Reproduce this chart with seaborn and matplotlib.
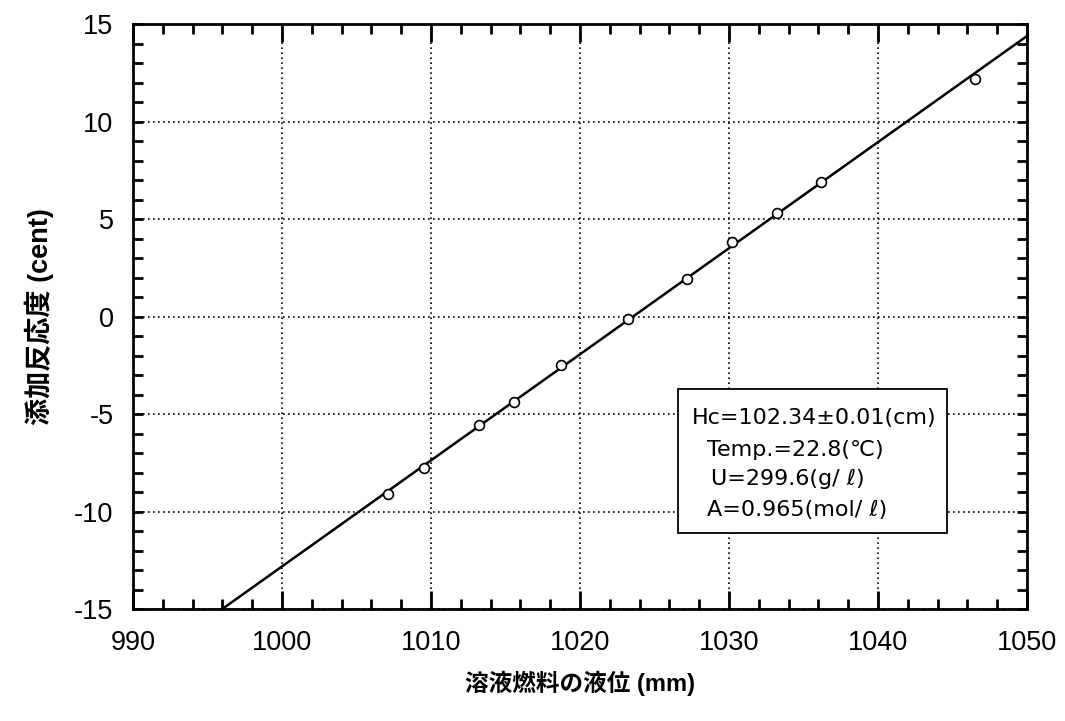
import numpy as np
import pandas as pd
import matplotlib
matplotlib.use("Agg")
import matplotlib.pyplot as plt
from matplotlib.ticker import MultipleLocator
from matplotlib.patches import Rectangle
import seaborn as sns

# ---- data ----
level_mm = [1007.1, 1009.55, 1013.2, 1015.6, 1018.7, 1023.2, 1027.2, 1030.2, 1033.2, 1036.2, 1046.5]
reactivity_cent = [-9.1, -7.75, -5.55, -4.4, -2.5, -0.15, 1.9, 3.8, 5.3, 6.9, 12.2]
fit_slope = 0.544          # cent per mm
fit_zero_mm = 1023.56      # level where the fitted line crosses 0
x_ticks = [990, 1000, 1010, 1020, 1030, 1040, 1050]
y_ticks = [-15, -10, -5, 0, 5, 10, 15]
xlabel = "溶液燃料の液位 (mm)"
ylabel = "添加反応度 (cent)"
info_lines = ["Hc=102.34±0.01(cm)", "Temp.=22.8(℃)", "U=299.6(g/ ℓ)", "A=0.965(mol/ ℓ)"]

sns.set_theme(style="ticks")
plt.rcParams["font.family"] = ["Liberation Sans", "Noto Sans CJK JP", "DejaVu Sans"]
plt.rcParams["axes.unicode_minus"] = False
plt.rcParams["text.color"] = "black"
plt.rcParams["axes.labelcolor"] = "black"
plt.rcParams["xtick.color"] = "black"
plt.rcParams["ytick.color"] = "black"

fig = plt.figure(figsize=(10.65, 7.21), dpi=100)
ax = fig.add_axes([0.1249, 0.1553, 0.8394, 0.8114])

xmin, xmax = x_ticks[0], x_ticks[-1]
fit_df = pd.DataFrame({"x": [xmin, xmax]})
fit_df["y"] = fit_slope * (fit_df["x"] - fit_zero_mm)
sns.lineplot(data=fit_df, x="x", y="y", ax=ax, color="black", linewidth=1.8, zorder=3)

pts = pd.DataFrame({"x": level_mm, "y": reactivity_cent})
sns.scatterplot(data=pts, x="x", y="y", ax=ax, marker="o", s=50,
                facecolor="white", edgecolor="black", linewidth=1.2, zorder=4)

ax.set_xlim(xmin, xmax)
ax.set_ylim(y_ticks[0], y_ticks[-1])
ax.set_xticks(x_ticks)
ax.set_yticks(y_ticks)
ax.xaxis.set_minor_locator(MultipleLocator(2))
ax.yaxis.set_minor_locator(MultipleLocator(1))

ax.grid(True, which="major", color="black", linestyle=(0, (1, 2)), linewidth=1.2)
ax.tick_params(which="both", direction="in", top=True, right=True, width=2,
               color="black", labelcolor="black")
ax.tick_params(axis="x", which="major", length=13, pad=15, labelsize=19.5)
ax.tick_params(axis="x", which="minor", length=7)
ax.tick_params(axis="y", which="major", length=7, pad=14, labelsize=19.5)
ax.tick_params(axis="y", which="minor", length=7)
for s in ax.spines.values():
    s.set_linewidth(2)
    s.set_color("black")

ax.set_xlabel(xlabel, fontsize=17, fontweight="bold", color="black")
ax.set_ylabel(ylabel, fontsize=19.5, fontweight="bold", color="black")
ax.xaxis.set_label_coords(0.5, -0.105)
ax.yaxis.set_label_coords(-0.088, 0.5)

box = Rectangle((0.610, 0.1304), 0.301, 0.2452, transform=ax.transAxes,
                facecolor="white", edgecolor="black", linewidth=1.3, zorder=5)
ax.add_patch(box)
info_x = [0.625, 0.642, 0.646, 0.642]
info_y = [0.326, 0.2718, 0.2222, 0.1692]
for t, tx, ty in zip(info_lines, info_x, info_y):
    ax.text(tx, ty, t, transform=ax.transAxes, ha="left", va="center", color="black",
            fontsize=16, family=["DejaVu Sans", "Noto Sans CJK JP"], zorder=6)

fig.savefig("out.png", dpi=100)
